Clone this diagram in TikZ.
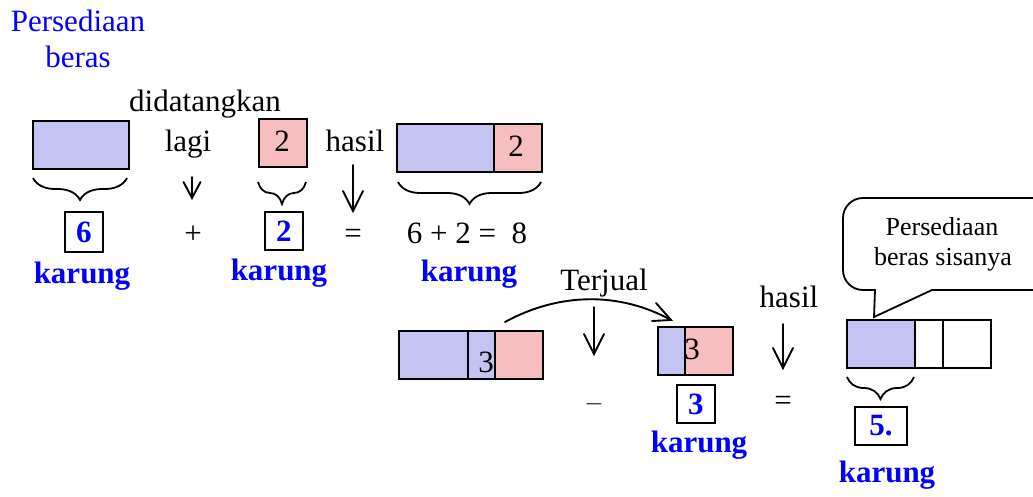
\documentclass[tikz,border=0pt]{standalone}
\usepackage{fontspec}
\setmainfont{Liberation Serif}
\usetikzlibrary{decorations.pathreplacing}
\definecolor{tblue}{RGB}{0,0,255}
\definecolor{cellblue}{RGB}{196,196,242}
\definecolor{cellred}{RGB}{246,190,190}
\tikzset{
  big/.style={font=\fontsize{31}{36}\selectfont, inner sep=0pt, anchor=base},
  small/.style={font=\fontsize{26}{30}\selectfont, inner sep=0pt, anchor=base},
  kar/.style={font=\fontsize{31}{36}\selectfont\bfseries, text=tblue, inner sep=0pt, anchor=base},
  cell/.style={draw, line width=2.2pt, inner sep=0pt, anchor=north west},
  cb/.style={cell, fill=cellblue},
  cr/.style={cell, fill=cellred},
  cw/.style={cell, fill=white},
  numbox/.style={draw, line width=1.8pt, font=\fontsize{31}{36}\selectfont\bfseries, text=tblue, inner sep=0pt, anchor=north west},
  brc/.style={decorate, decoration={brace, mirror, amplitude=22pt}, line width=1.8pt},
  arrline/.style={line width=1.9pt, line cap=round, line join=miter},
}
\begin{document}
\begin{tikzpicture}[x=1pt, y=-1pt]
\useasboundingbox (0,0) rectangle (1033,497);
% title
\node[big, text=tblue] (title1) at (78,32) {Persediaan};
\node[big, text=tblue] (title2) at (78,68) {beras};

% first row
\node[cb, minimum width=96pt, minimum height=48pt] (r1) at (32,120) {};
\draw[brc] (33,178) -- (127,178);
\node[numbox, minimum width=38pt, minimum height=40pt] (n6) at (64,211) {6};
\node[kar] (k1) at (82,283) {karung};

\node[big] (didat) at (205,112) {didatangkan};
\node[big] (lagi) at (188,152) {lagi};
\coordinate (a1s) at (192,177);
\coordinate (a1e) at (192,198);
\draw[arrline] (a1s) -- (a1e);
\draw[arrline] (a1e) ++(-8.5,-16) -- (a1e) -- +(8.5,-16);
\node[big] (plus) at (193,243) {+};

\node[cr, minimum width=48pt, minimum height=48pt] (r2) at (258,118) {};
\node[big] (t2) at (282,152) {2};
\draw[brc] (258,182) -- (306,182);
\node[numbox, minimum width=38pt, minimum height=38pt] (n2) at (264,211) {2};
\node[kar] (k2) at (279,280) {karung};

\node[big] (hasil1) at (355,152) {hasil};
\coordinate (a2s) at (353,165);
\coordinate (a2e) at (353,211);
\draw[arrline] (a2s) -- (a2e);
\draw[arrline] (a2e) ++(-10,-20) -- (a2e) -- +(10,-20);
\node[big] (eq1) at (353,243) {=};

\node[cb, minimum width=97pt, minimum height=48pt] (r3a) at (396,123) {};
\node[cr, minimum width=48pt, minimum height=48pt] (r3b) at (493,123) {};
\node[big] (t3) at (516,157) {2};
\draw[brc] (398,182) -- (541,182);
\node[big] (sum) at (467,243) {6 + 2 =\ \ 8};
\node[kar] (k3) at (469,281) {karung};

% second row
\node[cb, minimum width=69pt, minimum height=48pt] (s1) at (398,330) {};
\node[cb, minimum width=27pt, minimum height=48pt] (s2) at (467,330) {};
\node[cr, minimum width=48pt, minimum height=48pt] (s3) at (494,330) {};
\node[big] (s2t) at (486,372) {3};

\node[big] (terjual) at (604,290) {Terjual};
\coordinate (cs) at (505,322);
\coordinate (ce) at (671,320);
\draw[arrline] (cs) .. controls (560,292) and (620,292) .. (ce);
\draw[arrline] (656,303) -- (ce) -- (652,321);
\coordinate (a3s) at (594,307);
\coordinate (a3e) at (594,354);
\draw[arrline] (a3s) -- (a3e);
\draw[arrline] (a3e) ++(-10,-20) -- (a3e) -- +(10,-20);
\node[big] (minus) at (594,410) {$-$};

\node[cb, minimum width=27pt, minimum height=48pt] (u1) at (657,326) {};
\node[cr, minimum width=48pt, minimum height=48pt] (u2) at (684,326) {};
\node[big] (u2t) at (692,359) {3};
\node[numbox, minimum width=38pt, minimum height=38pt] (n3) at (676,384) {3};
\node[kar] (k4) at (699,452) {karung};

\node[big] (hasil2) at (789,307) {hasil};
\coordinate (a4s) at (783,324);
\coordinate (a4e) at (783,368);
\draw[arrline] (a4s) -- (a4e);
\draw[arrline] (a4e) ++(-10,-20) -- (a4e) -- +(10,-20);
\node[big] (eq2) at (783,410) {=};

\node[cb, minimum width=68pt, minimum height=48pt] (v1) at (846,319) {};
\node[cw, minimum width=28pt, minimum height=48pt] (v2) at (914,319) {};
\node[cw, minimum width=48pt, minimum height=48pt] (v3) at (942,319) {};
\draw[brc] (847,377) -- (914,377);
\node[numbox, minimum width=52pt, minimum height=38pt] (n5) at (854,406) {5.};
\node[kar] (k5) at (887,482) {karung};

% speech bubble
\coordinate (tip) at (874,317);
\draw[line width=1.8pt, fill=white] (tip) -- (875,290) [rounded corners=20pt] -- (843,290) -- (843,198) -- (1062,198) -- (1062,290) [sharp corners] -- (932,290) -- cycle;
\node[small] (b1) at (942,235) {Persediaan};
\node[small] (b2) at (943,265) {beras sisanya};
\end{tikzpicture}
\end{document}
